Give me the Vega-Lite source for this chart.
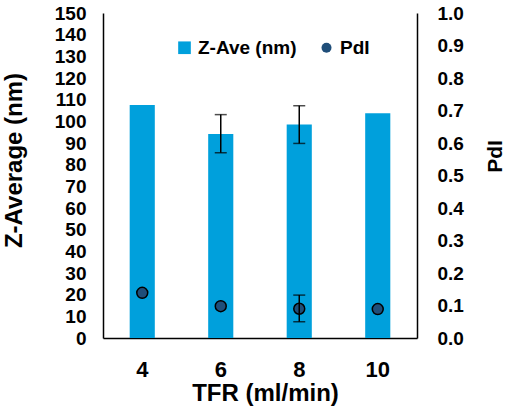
{
  "$schema": "https://vega.github.io/schema/vega-lite/v6.json",
  "autosize": "none",
  "width": 314,
  "height": 325,
  "padding": {"left": 103, "top": 13, "right": 95, "bottom": 74},
  "background": "white",
  "view": {"stroke": null},
  "config": {
    "font": "Liberation Sans",
    "axis": {
      "domainColor": "black",
      "domainWidth": 1.5,
      "ticks": false,
      "tickSize": 0,
      "grid": false,
      "labelOverlap": false,
      "labelColor": "black",
      "labelFontWeight": "bold",
      "titleColor": "black",
      "titleFontWeight": "bold",
      "labelFont": "Liberation Sans",
      "titleFont": "Liberation Sans"
    },
    "axisLeft": {
      "labelFontSize": 19,
      "labelPadding": 17,
      "titleFontSize": 24,
      "titleAngle": 270,
      "titleX": -89,
      "titleY": 147,
      "titleAlign": "center",
      "titleBaseline": "middle"
    },
    "axisRight": {
      "labelFontSize": 19,
      "labelPadding": 20,
      "titleFontSize": 21,
      "titleAngle": 270,
      "titleX": 78,
      "titleY": 143,
      "titleAlign": "center",
      "titleBaseline": "middle"
    }
  },
  "data": {
    "values": [
      {"TFR": 4, "zave": 107.5, "pdi": 0.139},
      {"TFR": 6, "zave": 94.2, "zlo": 85.5, "zhi": 103.1, "pdi": 0.098},
      {"TFR": 8, "zave": 98.5, "zlo": 89.8, "zhi": 107.2, "pdi": 0.09, "plo": 0.05, "phi": 0.132},
      {"TFR": 10, "zave": 103.7, "pdi": 0.089}
    ]
  },
  "encoding": {
    "x": {
      "field": "TFR",
      "type": "ordinal",
      "scale": {"paddingInner": 0.68, "paddingOuter": 0.34},
      "axis": {
        "title": "TFR (ml/min)",
        "labelAngle": 0,
        "labelFontSize": 22,
        "labelPadding": 21,
        "titleFontSize": 24,
        "titleX": 162,
        "titleY": 62,
        "titleAlign": "center",
        "titleBaseline": "alphabetic"
      }
    }
  },
  "layer": [
    {
      "layer": [
        {
          "mark": {"type": "bar"},
          "encoding": {
            "y": {
              "field": "zave",
              "type": "quantitative",
              "title": "Z-Average (nm)",
              "scale": {"domain": [0, 150], "nice": false},
              "axis": {
                "orient": "left",
                "values": [0, 10, 20, 30, 40, 50, 60, 70, 80, 90, 100, 110, 120, 130, 140, 150],
                "tickCount": 30,
                "labelOverlap": false
              }
            },
            "color": {
              "datum": "Z-Ave (nm)",
              "scale": {"domain": ["Z-Ave (nm)", "PdI"], "range": ["#00A0DC", "#1F4E79"]},
              "legend": {
                "title": null,
                "orient": "none",
                "direction": "horizontal",
                "legendX": 72,
                "legendY": 25,
                "padding": 0,
                "symbolType": "square",
                "symbolSize": 150,
                "symbolStrokeWidth": 0,
                "labelFontSize": 19,
                "labelFontWeight": "bold",
                "labelColor": "black",
                "labelOffset": 4,
                "columnPadding": 20,
                "encode": {
                  "symbols": {
                    "update": {
                      "shape": {"signal": "datum.value === 'PdI' ? 'circle' : 'square'"},
                      "size": {"signal": "datum.value === 'PdI' ? 100 : 160"}
                    }
                  }
                }
              }
            }
          }
        },
        {
          "transform": [{"filter": "isValid(datum.zlo)"}],
          "mark": {
            "type": "errorbar",
            "rule": {"color": "black", "strokeWidth": 1.5},
            "ticks": {"color": "black", "size": 12, "thickness": 1.5}
          },
          "encoding": {
            "y": {
              "field": "zlo",
              "type": "quantitative",
              "title": "Z-Average (nm)",
              "axis": {
                "orient": "left",
                "values": [0, 10, 20, 30, 40, 50, 60, 70, 80, 90, 100, 110, 120, 130, 140, 150],
                "tickCount": 30,
                "labelOverlap": false
              }
            },
            "y2": {"field": "zhi"}
          }
        }
      ]
    },
    {
      "layer": [
        {
          "mark": {"type": "point", "filled": true, "opacity": 1, "stroke": "black", "strokeWidth": 1.5, "size": 120},
          "encoding": {
            "y": {
              "field": "pdi",
              "type": "quantitative",
              "title": "PdI",
              "scale": {"domain": [0, 1], "nice": false},
              "axis": {
                "orient": "right",
                "values": [0, 0.1, 0.2, 0.3, 0.4, 0.5, 0.6, 0.7, 0.8, 0.9, 1.0],
                "tickCount": 30,
                "format": ".1f",
                "labelOverlap": false
              }
            },
            "color": {"datum": "PdI"}
          }
        },
        {
          "transform": [{"filter": "isValid(datum.plo)"}],
          "mark": {
            "type": "errorbar",
            "rule": {"color": "black", "strokeWidth": 1.5},
            "ticks": {"color": "black", "size": 12, "thickness": 1.5}
          },
          "encoding": {
            "y": {
              "field": "plo",
              "type": "quantitative",
              "title": "PdI",
              "axis": {
                "orient": "right",
                "values": [0, 0.1, 0.2, 0.3, 0.4, 0.5, 0.6, 0.7, 0.8, 0.9, 1.0],
                "tickCount": 30,
                "format": ".1f",
                "labelOverlap": false
              }
            },
            "y2": {"field": "phi"}
          }
        }
      ]
    }
  ],
  "resolve": {"scale": {"y": "independent"}}
}
